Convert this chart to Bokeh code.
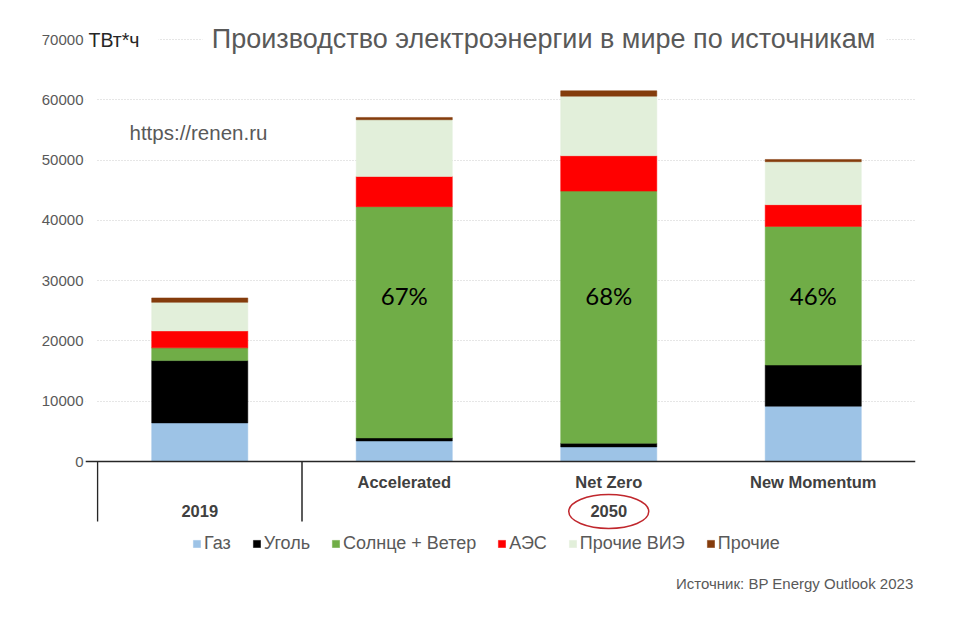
from bokeh.plotting import figure
from bokeh.models import (Range1d, FixedTicker, Span, Label, BoxAnnotation,
                          Legend, LegendItem, ColumnDataSource)
from bokeh.core.properties import value
from bokeh.embed import file_html
from bokeh.resources import INLINE

# ---------------- data ----------------
categories = ["2019", "Accelerated", "Net Zero", "New Momentum"]
scenario_labels = ["", "Accelerated", "Net Zero", "New Momentum"]
groups = ["2019", "2050"]
group_sizes = [1, 3]
highlight_group = "2050"
pct_categories = ["Accelerated", "Net Zero", "New Momentum"]

series_names = ["Газ", "Уголь", "Солнце + Ветер", "АЭС", "Прочие ВИЭ", "Прочие"]
gas = [6400, 3410, 2420, 9170]
coal = [10340, 500, 610, 6830]
solar_wind = [2110, 38360, 41820, 23000]
nuclear = [2810, 5020, 5870, 3600]
other_re = [4740, 9400, 9880, 7130]
other = [730, 380, 890, 370]

y_ticks = [0, 10000, 20000, 30000, 40000, 50000, 60000, 70000]
unit_label = "ТВт*ч"
title_text = "Производство электроэнергии в мире по источникам"
watermark_text = "https://renen.ru"
source_text = "Источник: BP Energy Outlook 2023"

colors = ["#9dc3e6", "#000000", "#70ad47", "#ff0000", "#e2efda", "#843c0c"]

# ---------------- geometry helpers (page pixels -> data) ----------------
W, H = 944, 600
FRAME_L = 85              # frame left (page px), a little left of the category grid
FL, FR = 97, 915          # category grid left/right in page px
Y0, YTOP = 461, 39        # page px of 0 and 70000
PPU = (Y0 - YTOP) / 70000.0
CAT_W = (FR - FL) / len(categories)


def X(px):
    return (px - FL) / CAT_W


def Y(py):
    return (Y0 - py) / PPU


FONT = "Liberation Sans"
GREY = "#595959"

p = figure(width=W, height=H, output_backend="svg", toolbar_location=None,
           x_range=Range1d(X(FRAME_L), X(FR)),
           y_range=Range1d(Y(H), Y(0)),
           x_axis_location=None,
           min_border_left=FRAME_L, min_border_right=W - FR,
           min_border_top=0, min_border_bottom=0)
p.outline_line_color = None
p.background_fill_color = "white"
p.xgrid.visible = False

ticker = FixedTicker(ticks=y_ticks)
p.yaxis.ticker = ticker
p.ygrid.ticker = ticker
p.ygrid.grid_line_color = "#cccccc"
p.ygrid.grid_line_dash = "1 2"
p.ygrid.grid_line_width = 1
p.yaxis.axis_line_color = None
p.yaxis.major_tick_line_color = None
p.yaxis.minor_tick_line_color = None
p.yaxis.major_tick_out = 0
p.yaxis.major_tick_in = 0
p.yaxis.major_label_standoff = 2
p.yaxis.major_label_text_font = FONT
p.yaxis.major_label_text_font_size = "15px"
p.yaxis.major_label_text_color = GREY

# ---------------- bars ----------------
xpos = [i + 0.5 for i in range(len(categories))]
keys = ["gas", "coal", "solar_wind", "nuclear", "other_re", "other"]
src = ColumnDataSource(dict(x=xpos, gas=gas, coal=coal, solar_wind=solar_wind,
                            nuclear=nuclear, other_re=other_re, other=other))
renderers = p.vbar_stack(keys, x="x", width=0.47, color=colors, source=src, line_width=0.5)

# percentage labels for 2050 scenarios (share of solar + wind)
pct_x, pct_text = [], []
for c in pct_categories:
    i = categories.index(c)
    total = gas[i] + coal[i] + solar_wind[i] + nuclear[i] + other_re[i] + other[i]
    pct_x.append(xpos[i])
    pct_text.append(f"{round(100 * solar_wind[i] / total)}%")
p.text(x=pct_x, y=[Y(295)] * len(pct_x), text=pct_text,
       text_font=value("Lato"), text_font_size="24px", text_color="black",
       text_align="center", text_baseline="middle")

# ---------------- category axis box ----------------
# white strip left of the category grid (keeps gridlines starting at the grid edge)
p.add_layout(BoxAnnotation(left=X(FRAME_L), right=X(96.2), bottom=Y(H), top=Y(0),
                           fill_color="white", fill_alpha=1, line_color=None))
p.add_layout(Span(location=0, dimension="width", line_color="#262626", line_width=1.5))
bounds = [0]
for s in group_sizes[:-1]:
    bounds.append(bounds[-1] + s)
p.segment(x0=bounds, y0=[0] * len(bounds), x1=bounds, y1=[Y(521)] * len(bounds),
          line_color="#262626", line_width=1.5)

p.text(x=xpos, y=[Y(481)] * len(categories), text=scenario_labels,
       text_font=value(FONT), text_font_style="bold", text_font_size="16.5px",
       text_color="#404040", text_align="center", text_baseline="middle")

centers = []
start = 0
for s in group_sizes:
    centers.append(start + s / 2)
    start += s
p.text(x=centers, y=[Y(510)] * len(groups), text=groups,
       text_font=value(FONT), text_font_style="bold", text_font_size="16.5px",
       text_color="#404040", text_align="center", text_baseline="middle")

hc = centers[groups.index(highlight_group)]
p.ellipse(x=[hc], y=[Y(511)], width=80, height=34, width_units="screen",
          height_units="screen", fill_color=None, line_color="#c0272d", line_width=1.5)

# ---------------- title row ----------------
p.add_layout(BoxAnnotation(left=X(FRAME_L), right=X(158), bottom=Y(48), top=Y(30),
                           fill_color="white", fill_alpha=1, line_color=None))
p.add_layout(BoxAnnotation(left=X(202), right=X(886), bottom=Y(56), top=Y(22),
                           fill_color="white", fill_alpha=1, line_color=None))
p.add_layout(Label(x=X(88), y=Y(39), text=unit_label, text_font=FONT,
                   text_font_size="19.5px", text_color="#262626",
                   text_align="left", text_baseline="middle"))
p.add_layout(Label(x=X(543), y=Y(38), text=title_text, text_font=FONT,
                   text_font_size="27px", text_color=GREY,
                   text_align="center", text_baseline="middle"))

p.add_layout(Label(x=X(129), y=Y(132), text=watermark_text, text_font=FONT,
                   text_font_size="20.5px", text_color=GREY,
                   text_align="left", text_baseline="middle"))

p.add_layout(Label(x=X(913), y=Y(583), text=source_text, text_font=FONT,
                   text_font_size="15px", text_color=GREY,
                   text_align="right", text_baseline="middle"))

# ---------------- legend ----------------
items = [LegendItem(label=n, renderers=[r]) for n, r in zip(series_names, renderers)]
legend = Legend(items=items, orientation="horizontal", location=(107, 46),
                glyph_width=9, glyph_height=9, label_standoff=3, spacing=21,
                padding=0, margin=0, border_line_color=None, background_fill_alpha=0,
                label_text_font=FONT, label_text_font_size="18px",
                label_text_color=GREY, label_height=20)
p.add_layout(legend, "center")

open("out.html", "w").write(file_html(p, INLINE))
